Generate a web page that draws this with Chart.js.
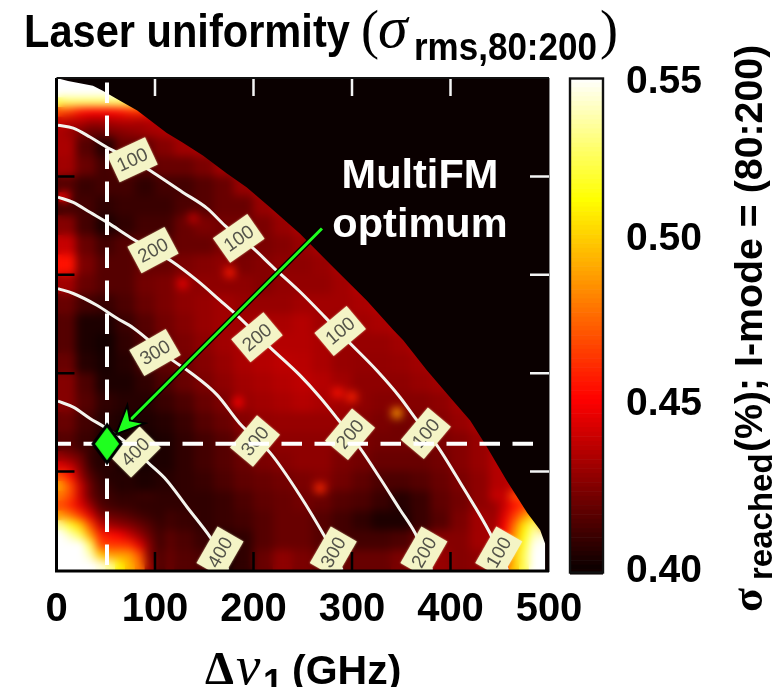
<!DOCTYPE html>
<html><head><meta charset="utf-8">
<style>html,body{margin:0;padding:0;background:#fff}canvas{display:block}</style>
<script src="https://cdn.jsdelivr.net/npm/chart.js@4"></script>
</head><body>
<canvas id="c" width="777" height="687"></canvas>
<script>
// Cell centres of the main map (GHz)
const cellX=[10,30,50,70,90,110,130,150,170,190,210,230,250,270,290,310,330,350,370,390,410,430,450,470,490];
// sigma_rms x 1000, one row per y value (rows stop just past the black boundary)
const row470=[470,470,480,460,450];
const row450=[432,420,408,416,430,434,434];
const row430=[434,416,406,420,420,426,432,434];
const row410=[432,420,412,420,416,420,420,424,432,434];
const row390=[416,410,412,412,408,412,412,416,420,430,434];
const row370=[412,412,408,410,410,410,414,416,420,420,430,434];
const row350=[426,412,404,408,412,412,420,424,422,422,424,430,434];
const row330=[440,420,412,416,416,416,420,420,424,422,424,426,430,434];
const row310=[456,424,416,416,420,420,424,426,428,424,426,428,428,430,434,436];
const row290=[432,420,416,416,422,424,428,428,428,428,426,429,429,429,432,436];
const row270=[420,412,410,414,420,424,428,430,432,430,430,430,432,432,432,434,436];
const row250=[416,404,404,410,416,422,426,430,432,432,434,434,436,432,430,432,434,436];
const row230=[416,404,402,408,414,420,424,428,432,434,436,436,436,434,430,430,430,432,436];
const row210=[420,406,403,406,412,418,422,426,430,434,436,438,437,434,430,429,429,430,432,436];
const row190=[426,414,404,404,408,414,420,424,428,432,434,436,438,436,432,428,428,428,430,432,436];
const row170=[426,416,408,406,406,410,414,420,424,430,432,434,436,434,432,428,426,426,426,428,432,436];
const row150=[420,412,406,404,404,406,410,416,420,426,429,430,430,430,430,426,424,422,424,426,430,434];
const row130=[416,410,404,402,402,404,408,412,416,422,426,428,428,428,426,424,422,422,422,424,426,430,434];
const row110=[438,418,408,403,403,404,408,412,416,420,424,426,428,428,424,422,420,420,420,422,426,430,436];
const row90=[470,432,412,406,404,406,408,410,414,418,420,422,424,426,422,418,414,414,416,420,424,428,436,440];
const row70=[470,440,420,412,410,408,408,408,410,414,418,420,422,420,416,414,410,406,410,418,422,428,440,470];
const row50=[510,490,432,424,416,412,410,408,410,412,416,420,420,416,412,408,404,404,410,416,424,432,445,490,490];
const row30=[550,530,460,450,430,418,414,410,406,408,416,420,420,416,412,412,412,414,420,426,426,432,452,505,545];
const row10=[550,545,500,495,440,420,416,414,404,408,420,428,424,420,420,420,420,424,428,430,426,428,470,515,550];
const rowsY=[470,450,430,410,390,370,350,330,310,290,270,250,230,210,190,170,150,130,110,90,70,50,30,10];
const rowsZ=[row470,row450,row430,row410,row390,row370,row350,row330,row310,row290,row270,row250,row230,row210,row190,row170,row150,row130,row110,row90,row70,row50,row30,row10];
// Finer cells, top-left band
const bandX=[5,15,25,35,45,55,65,75,85,95,105,115];
const bandY=[495,485,475,465,455,445];
const band495=[550,550,550,550,550,550,550];
const band485=[550,550,550,550,550,550,545,520];
const band475=[525,528,528,528,528,528,528,525,510,480];
const band465=[470,465,455,452,452,452,455,460,462,455,445];
const band455=[440,436,436,432,432,434,436,436,434,436,436,436];
const band445=[434,430,424,420,420,424,426,428,430,432,434,436];
const bandRows=[band495,band485,band475,band465,band455,band445];
// Finer cells, bottom-left corner
const lowX=[5,15,25,35,45,55,65,75,85,95,105];
const lowY=[115,105,95,85,75,65,55,45,35,25,15,5];
const low115=[430,425,420,408,405];
const low105=[445,440,425,410,405];
const low95=[470,455,430,415,408,405];
const low85=[490,470,440,420,410,408,405];
const low75=[480,468,440,420,412,410,408,408];
const low65=[470,460,445,430,415,412,410,410,408,408,408];
const low55=[490,480,465,445,425,420,418,415,412,410,408];
const low45=[535,518,500,470,440,432,428,425,420,415,410];
const low35=[550,540,525,490,460,455,450,440,430,420,412];
const low25=[550,550,550,525,470,465,465,462,445,425,412];
const low15=[550,550,550,540,500,490,490,488,470,425,415];
const low5=[550,550,550,550,545,535,510,495,480,430,415];
const lowRows=[low115,low105,low95,low85,low75,low65,low55,low45,low35,low25,low15,low5];
// Finer cells, bottom-right corner
const cornerX=[445,455,465,475,485,495];
const cornerY=[65,55,45,35,25,15,5];
const corner65=[430,440,455,465,475];
const corner55=[430,445,465,485,500];
const corner45=[432,450,478,508,530];
const corner35=[432,455,488,515,540];
const corner25=[432,460,495,520,548,550];
const corner15=[432,465,500,525,550,550];
const corner5=[434,465,500,525,550,550];
const cornerRows=[corner65,corner55,corner45,corner35,corner25,corner15,corner5];
// Isolated hot spots
const spotX=[345.6,267.5,285.6,300,176,128,138.6,184,8];
const spotY=[159.4,83,180,176,302.5,291,358,170.5,379];
const spotV=[490,462,456,460,458,448,438,452,452];
// Edge of the scanned region (GHz)
const edgeX=[0,11.7,37,47,64.5,82,95,112,128,149,173,193,217,247,281,315,342,352,376,399.5,420,437,457,478,491,496,496,500];
const edgeY=[500,497,492,487,477,467,457,444,434.5,421,403,389,368.5,342,307.6,274,244,233.5,203,175.6,152,125,91,58,40.6,27,0,0];
// Contours
const c100x=[1.5,17,34,54,77,98,128,153,171,199.5,220,247,272.6,295,325,348.7,366,386,412.7,440,449,458];
const c100y=[452,449,440,428,417,404,384,367.5,350,327,307.6,283,257,233.5,203,175.6,152,127,84,37.6,18,0];
const c200x=[1.5,17,34,52,75,98,118,143,166,183,217,247,267.5,285,308,328,349,364,373,381];
const c200y=[379,373.6,363.5,353,338,325,313,294,274,259,226,198,175.6,154,124,94,61,37.6,18,0];
const c300x=[1.5,17,41,61,78,118,135.5,163,186,217,247,272.6,281,290];
const c300y=[286,281,269,256,246,213,201,178,149,119,76,33.5,18,0];
const c400x=[1.5,17,34,49,80,92,112,132.5,156,166,174];
const c400y=[171.6,165.5,154,145,122,110,91,64,33.5,18,0];
// Contour labels
const labelText=["100","100","100","100","100","200","200","200","200","300","300","300","400","400"];
const labelX=[77,185,288,375,449,98,203.5,298,373,100,201.5,281,80,166];
const labelY=[417,337,243,139,18,325,236.5,138,18,221,131,18,120,18];
const labelAngle=[-25,-35,-40,-50,-60,-28,-40,-50,-60,-30,-50,-60,-45,-60];
// Optimum and arrow
const optimumX=51.3, optimumY=128.2;
const arrowX=[269.5,60.4], arrowY=[347,138];
const headX=[60.4,71.9,74.6,89.8], headY=[138,167.5,152,149];
// Axes
const xTicks=[0,100,200,300,400,500];
const tickMarks=[100,200,300,400];
const colorTicks=[0.3997,0.4506,0.5009,0.5488];

const stops=[[400,10,0,0],[452,255,0,0],[513,255,255,0],[550,255,255,255]];
function heat(v){
  v=Math.max(400,Math.min(550,v));
  for(let i=1;i<stops.length;i++){
    const a=stops[i-1],b=stops[i];
    if(v<=b[0]){const t=(v-a[0])/(b[0]-a[0]);
      return `rgb(${Math.round(a[1]+(b[1]-a[1])*t)},${Math.round(a[2]+(b[2]-a[2])*t)},${Math.round(a[3]+(b[3]-a[3])*t)})`;}
  }
  return '#fff';
}
function cells(xs,ys,rows){
  const out=[];
  rows.forEach((r,i)=>r.forEach((v,j)=>out.push({x:xs[j],y:ys[i],v})));
  return out;
}
const pairs=(xs,ys)=>xs.map((x,i)=>({x,y:ys[i]}));
const mainCells=cells(cellX,rowsY,rowsZ);
const bandCells=cells(bandX,bandY,bandRows);
const lowCells=cells(lowX,lowY,lowRows);
const cornerCells=cells(cornerX,cornerY,cornerRows);
const spotCells=spotX.map((x,i)=>({x,y:spotY[i],v:spotV[i]}));
const cellRadius=g=>ctx=>{const s=ctx.chart.scales.x;return (s.getPixelForValue(g)-s.getPixelForValue(0)+1)/Math.SQRT2;};
function heatSet(label,data,g,order){
  return {label,data,order,showLine:false,pointStyle:'rect',pointRadius:cellRadius(g),pointHoverRadius:cellRadius(g),
    pointBorderWidth:0,pointBackgroundColor:data.map(d=>heat(d.v)),pointBorderColor:'transparent'};
}
function lineSet(label,xs,ys,order,o){
  return Object.assign({label,data:pairs(xs,ys),order,showLine:true,pointRadius:0,fill:false,borderColor:'#f4f4ee',borderWidth:3,cubicInterpolationMode:'monotone'},o||{});
}
const diamond=document.createElement('canvas');diamond.width=36;diamond.height=44;
(function(){const g=diamond.getContext('2d');g.beginPath();g.moveTo(18,3);g.lineTo(32,22);g.lineTo(18,41);g.lineTo(4,22);g.closePath();
 g.fillStyle='#1fff1f';g.fill();g.lineWidth=3;g.strokeStyle='#000';g.lineJoin='miter';g.stroke();})();

function run(ctx,text,font,x,y,stretch){
  ctx.save();ctx.font=font;ctx.textAlign='left';ctx.textBaseline='alphabetic';ctx.fillStyle='#000';
  ctx.translate(x,y);ctx.scale(1,stretch||1);ctx.fillText(text,0,0);ctx.restore();
}
const SANS='"Liberation Sans",Arial,sans-serif',SERIF='"Liberation Serif","Times New Roman",serif';
const art={
  id:'art',
  beforeDatasetsDraw(chart){
    const a=chart.chartArea,c=chart.ctx;c.save();c.fillStyle='#0a0000';c.fillRect(a.left,a.top,a.right-a.left,a.bottom-a.top);c.restore();
  },
  afterDatasetDraw(chart,args){
    const name=chart.data.datasets[args.index].label,a=chart.chartArea,c=chart.ctx,sx=chart.scales.x,sy=chart.scales.y;
    if(name==='spots'){
      c.save();c.beginPath();c.rect(a.left,a.top,a.right-a.left,a.bottom-a.top);c.clip();
      c.filter='blur(4px)';
      c.drawImage(chart.canvas,a.left,a.top,a.right-a.left,a.bottom-a.top,a.left,a.top,a.right-a.left,a.bottom-a.top);
      c.restore();
    }
    if(name==='contour 400'){
      c.save();c.beginPath();c.rect(a.left,a.top,a.right-a.left,a.bottom-a.top);c.clip();
      labelText.forEach((t,i)=>{
        c.save();c.translate(sx.getPixelForValue(labelX[i]),sy.getPixelForValue(labelY[i]));c.rotate(labelAngle[i]*Math.PI/180);
        c.shadowColor='rgba(245,245,190,0.7)';c.shadowBlur=2;
        c.fillStyle='#f4f4c6';c.fillRect(-21,-15,42,30);
        c.shadowBlur=0;c.fillStyle='#54544a';c.font='19px '+SANS;c.textAlign='center';c.textBaseline='middle';c.fillText(t,0,1);
        c.restore();
      });
      c.restore();
    }
    if(name==='arrow'){
      c.save();c.beginPath();
      headX.forEach((x,i)=>{const px=sx.getPixelForValue(x),py=sy.getPixelForValue(headY[i]);i?c.lineTo(px,py):c.moveTo(px,py);});
      c.closePath();c.fillStyle='#1fff1f';c.strokeStyle='#000';c.lineWidth=2;c.fill();c.stroke();c.restore();
    }
  },
  afterDatasetsDraw(chart){
    const a=chart.chartArea,c=chart.ctx,sx=chart.scales.x,sy=chart.scales.y,sc=chart.scales.c;
    // annotation
    c.save();c.fillStyle='#fff';c.font='bold 41.5px '+SANS;c.textAlign='center';c.textBaseline='alphabetic';
    c.fillText('MultiFM',sx.getPixelForValue(369),sy.getPixelForValue(388));
    c.fillText('optimum',sx.getPixelForValue(369),sy.getPixelForValue(338));c.restore();
    // tick marks
    c.save();c.lineWidth=2.5;
    tickMarks.forEach(v=>{
      const px=sx.getPixelForValue(v),py=sy.getPixelForValue(v);
      c.strokeStyle='#000';c.beginPath();c.moveTo(px,a.bottom);c.lineTo(px,a.bottom-18);c.moveTo(a.left,py);c.lineTo(a.left+18,py);c.stroke();
      c.strokeStyle='#f4f4f4';c.beginPath();c.moveTo(px,a.top);c.lineTo(px,a.top+18);c.moveTo(a.right,py);c.lineTo(a.right-19,py);c.stroke();
    });
    // frame
    c.strokeStyle='#000';c.lineWidth=3;c.beginPath();c.moveTo(a.left,a.top);c.lineTo(a.left,a.bottom+1);c.lineTo(a.right,a.bottom+1);c.stroke();
    c.lineWidth=2;c.strokeStyle='#111';c.beginPath();c.moveTo(a.left,a.top);c.lineTo(a.right,a.top);c.stroke();
    c.lineWidth=1;c.strokeStyle='#8a8a8a';c.beginPath();c.moveTo(a.right+.5,a.top);c.lineTo(a.right+.5,a.bottom+2);c.stroke();
    // colour bar
    const L=570,R=603;
    for(let v=550;v>400;v-=1.4){
      const y0=sc.getPixelForValue(v/1000),y1=sc.getPixelForValue((v-1.4)/1000);
      c.fillStyle=heat(v-.7);c.fillRect(L,y0,R-L,y1-y0+.6);
    }
    c.fillStyle=heat(402);c.fillRect(L,a.bottom-1,R-L,3);
    c.lineWidth=2.4;c.strokeStyle='#111';c.strokeRect(L,a.top+.5,R-L,a.bottom+2-a.top);
    c.restore();
    // title
    run(c,'Laser uniformity','bold 41.6px '+SANS,24,47,1.12);
    run(c,'(','54px '+SERIF,361,48);
    run(c,'\u03C3','italic 60px '+SERIF,378,47);
    run(c,'rms,80:200','bold 35px '+SANS,414,60,1.12);
    run(c,')','54px '+SERIF,600,48);
    // x title
    run(c,'\u0394','bold 46px '+SERIF,205,684);
    run(c,'\u03BD','italic 55px '+SERIF,236,684);
    run(c,'1','bold 36px '+SANS,263,695);
    run(c,'(GHz)','bold 41px '+SANS,292,684);
    // right title
    c.save();c.rotate(-Math.PI/2);
    run(c,'\u03C3','bold 44px '+SERIF,-612,762);
    run(c,'reached','bold 33px '+SANS,-580,772);
    run(c,'(%); I-mode = (80:200)','bold 39.3px '+SANS,-452,762);
    c.restore();
  }
};
new Chart(document.getElementById('c'),{
  type:'scatter',
  data:{datasets:[
    heatSet('main map',mainCells,20,31),
    heatSet('top band',bandCells,10,30),
    heatSet('low corner',lowCells,10,29),
    heatSet('corner',cornerCells,10,28),
    heatSet('spots',spotCells,9,27),
    lineSet('unscanned',edgeX,edgeY,26,{borderWidth:0,borderColor:'#0a0000',backgroundColor:'#0a0000',fill:'end',cubicInterpolationMode:'default',tension:0}),
    lineSet('contour 100',c100x,c100y,25),
    lineSet('contour 200',c200x,c200y,24),
    lineSet('contour 300',c300x,c300y,23),
    lineSet('contour 400',c400x,c400y,22),
    lineSet('optimum x',[optimumX,optimumX],[495.4,0],21,{borderColor:'#fff',borderWidth:4,borderDash:[20.5,12.5],cubicInterpolationMode:'default',tension:0}),
    lineSet('optimum y',[0,488],[optimumY,optimumY],20,{borderColor:'#fff',borderWidth:4,borderDash:[20.5,12.5],borderDashOffset:6,cubicInterpolationMode:'default',tension:0}),
    {label:'optimum',data:[{x:optimumX,y:optimumY}],order:19,showLine:false,pointStyle:diamond,pointRadius:18},
    lineSet('arrow casing',arrowX,arrowY,18,{borderColor:'#000',borderWidth:5.5,cubicInterpolationMode:'default',tension:0}),
    lineSet('arrow',arrowX,arrowY,17,{borderColor:'#1fff1f',borderWidth:3,cubicInterpolationMode:'default',tension:0})
  ]},
  options:{
    responsive:false,animation:false,events:[],
    layout:{padding:{top:78,left:0,right:0,bottom:0}},
    plugins:{legend:{display:false},tooltip:{enabled:false},title:{display:false}},
    scales:{
      x:{type:'linear',position:'bottom',min:0,max:500,grid:{display:false},border:{display:false},
        afterFit(s){s.height=117;s.paddingLeft=0;s.paddingRight=0;},
        afterBuildTicks(s){s.ticks=xTicks.map(value=>({value}));},
        ticks:{color:'#000',maxRotation:0,autoSkip:false,padding:8,font:{family:'"Liberation Sans"',weight:'bold',size:40}}},
      y:{type:'linear',position:'left',min:0,max:500,grid:{display:false},border:{display:false},
        afterFit(s){s.width=56.5;s.paddingTop=0;s.paddingBottom=0;},ticks:{display:false}},
      c:{type:'linear',position:'right',min:0.40,max:0.55,grid:{display:false},border:{display:false},
        afterFit(s){s.width=228;s.paddingTop=0;s.paddingBottom=0;},
        afterBuildTicks(s){s.ticks=colorTicks.map(value=>({value}));},
        ticks:{color:'#000',autoSkip:false,padding:69,callback:v=>Number(v).toFixed(2),font:{family:'"Liberation Sans"',weight:'bold',size:39}}}
    }
  },
  plugins:[art]
});
</script>
</body></html>
